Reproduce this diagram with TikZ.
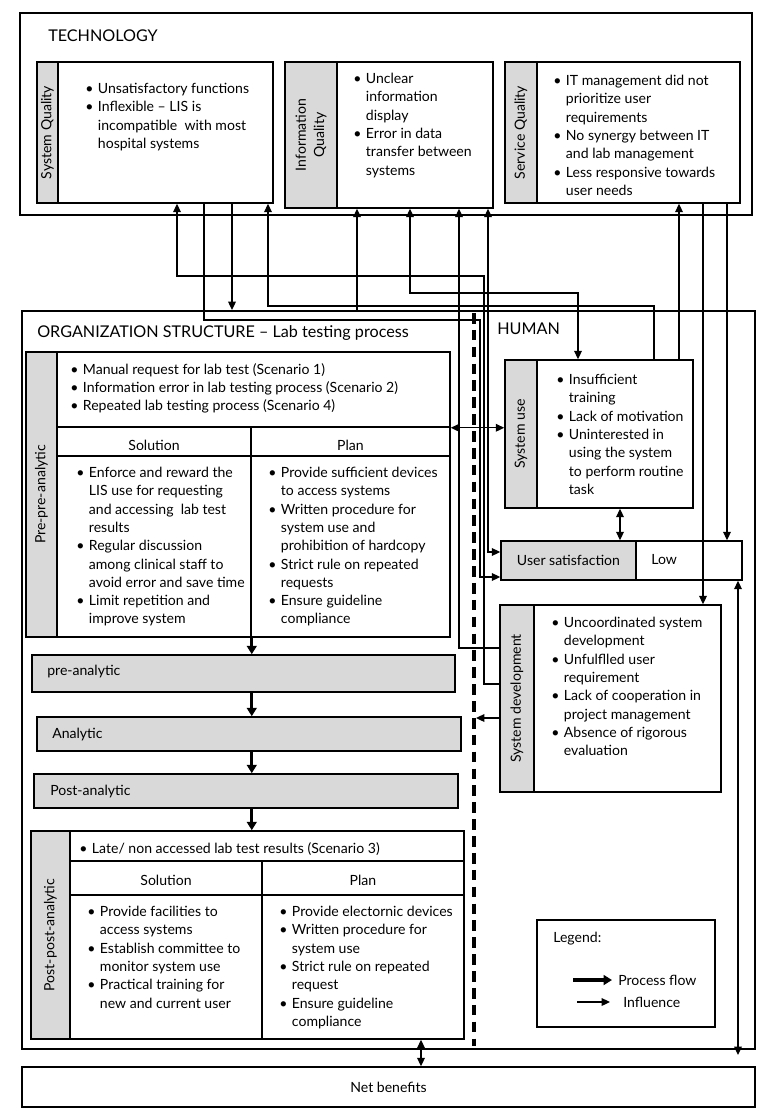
\documentclass[tikz,border=0pt]{standalone}
\usepackage{fontspec}
\setmainfont{Lato}
\usetikzlibrary{positioning,arrows.meta,fit,calc}
\newcommand{\bu}{\makebox[9pt][l]{\textbullet}}
\newcommand{\nb}{\hspace*{9pt}}

\begin{document}
\begin{tikzpicture}[x=0.025cm, y=-0.025cm,
  font=\fontsize{10}{13}\selectfont,
  frame/.style={draw, line width=1.4pt, inner sep=0pt},
  box/.style={draw, line width=1.1pt, inner sep=0pt, fill=white},
  tag/.style={draw, line width=1.1pt, inner sep=0pt, fill=gray!30},
  txt/.style={anchor=north west, align=left, inner sep=0pt},
  vtag/.style={rotate=90, align=center, inner sep=0pt},
  head/.style={anchor=west, inner sep=0pt, font=\fontsize{11.5}{14}\selectfont},
  flow/.style={-{Triangle[length=6pt, width=7pt]}, line width=2.2pt},
  infl/.style={-{Triangle[length=6pt, width=5.5pt]}, line width=0.9pt},
  both/.style={{Triangle[length=6pt, width=5.5pt]}-{Triangle[length=6pt, width=5.5pt]}, line width=0.9pt}]
  \useasboundingbox (0,0) rectangle (772,1116);

  % technology
  \node[frame, fit={(20,13)(752,215)}] (tech) {};
  \node[head] (techlbl) at (48,36) {TECHNOLOGY};
  \node[tag, fit={(37,62)(58,203)}] (sqt) {};
  \node[box, fit={(58,62)(273,203)}] (sq) {};
  \node[vtag] at (sqt) {System Quality};
  \node[txt] (sqtxt) at (85,83) {\bu Unsatisfactory functions\\ \bu Inflexible – LIS is\\ \nb incompatible\ \ with most\\ \nb hospital systems};
  \node[tag, fit={(285,62)(337,208)}] (iqt) {};
  \node[box, fit={(337,62)(493,208)}] (iq) {};
  \node[vtag] at (iqt) {Information\\ Quality};
  \node[txt] (iqtxt) at (353,73) {\bu Unclear\\ \nb information\\ \nb display\\ \bu Error in data\\ \nb transfer between\\ \nb systems};
  \node[tag, fit={(505,62)(537,203)}] (svqt) {};
  \node[box, fit={(537,62)(740,203)}] (svq) {};
  \node[vtag] at (svqt) {Service Quality};
  \node[txt] (svqtxt) at (553,75) {\bu IT management did not\\ \nb prioritize user\\ \nb requirements\\ \bu No synergy between IT\\ \nb and lab management\\ \bu Less responsive towards\\ \nb user needs};

  % organization structure
  \node[frame, fit={(22,311)(755,1049)}] (org) {};
  \coordinate (dtop) at (474,313);
  \coordinate (dbot) at (474,1046);
  \draw[line width=2.4pt, dash pattern=on 7.5pt off 4.5pt] (dtop) -- (dbot);
  \node[head] (orglbl) at (37,333) {ORGANIZATION STRUCTURE – Lab testing process};
  \node[head] (humlbl) at (497,329) {HUMAN};

  \node[tag, fit={(26,352)(57,637)}] (ppt) {};
  \node[vtag] at (ppt) {Pre-pre-analytic};
  \node[box, fit={(57,352)(450,427)}] (pptop) {};
  \node[txt] at (70,363) {\bu Manual request for lab test (Scenario 1)\\ \bu Information error in lab testing process (Scenario 2)\\ \bu Repeated lab testing process (Scenario 4)};
  \node[box, fit={(57,427)(251,456)}] (ppsolh) {};
  \node[box, fit={(251,427)(450,456)}] (ppplanh) {};
  \node at ([yshift=-2.5pt]ppsolh.center) {Solution};
  \node at ([yshift=-2.5pt]ppplanh.center) {Plan};
  \node[box, fit={(57,456)(251,637)}] (ppsol) {};
  \node[box, fit={(251,456)(450,637)}] (ppplan) {};
  \node[txt] at (76,467) {\bu Enforce and reward the\\ \nb LIS use for requesting\\ \nb and accessing\ \ lab test\\ \nb results\\ \bu Regular discussion\\ \nb among clinical staff to\\ \nb avoid error and save time\\ \bu Limit repetition and\\ \nb improve system};
  \node[txt] at (268,467) {\bu Provide sufficient devices\\ \nb to access systems\\ \bu Written procedure for\\ \nb system use and\\ \nb prohibition of hardcopy\\ \bu Strict rule on repeated\\ \nb requests\\ \bu Ensure guideline\\ \nb compliance};

  \node[tag, fit={(32,655)(455,692)}] (pre) {};
  \node[anchor=west, inner sep=0pt] at (47,672) {pre-analytic};
  \node[tag, fit={(37,717)(461,751)}] (ana) {};
  \node[anchor=west, inner sep=0pt] at (52,735) {Analytic};
  \node[tag, fit={(34,774)(458,808)}] (post) {};
  \node[anchor=west, inner sep=0pt] at (50,792) {Post-analytic};

  \node[tag, fit={(31,831)(70,1039)}] (pppt) {};
  \node[vtag] at (pppt) {Post-post-analytic};
  \node[box, fit={(70,831)(464,861)}] (ppptop) {};
  \node[txt] at (79,842) {\bu Late/ non accessed lab test results (Scenario 3)};
  \node[box, fit={(70,861)(262,895)}] (pppsolh) {};
  \node[box, fit={(262,861)(464,895)}] (pppplanh) {};
  \node at ([yshift=-2pt]pppsolh.center) {Solution};
  \node at ([yshift=-2pt]pppplanh.center) {Plan};
  \node[box, fit={(70,895)(262,1039)}] (pppsol) {};
  \node[box, fit={(262,895)(464,1039)}] (pppplan) {};
  \node[txt] at (87,906) {\bu Provide facilities to\\ \nb access systems\\ \bu Establish committee to\\ \nb monitor system use\\ \bu Practical training for\\ \nb new and current user};
  \node[txt] at (279,906) {\bu Provide electornic devices\\ \bu Written procedure for\\ \nb system use\\ \bu Strict rule on repeated\\ \nb request\\ \bu Ensure guideline\\ \nb compliance};

  % human
  \node[tag, fit={(505,360)(537,508)}] (sut) {};
  \node[box, fit={(537,360)(693,508)}] (su) {};
  \node[vtag] at (sut) {System use};
  \node[txt] at (556,374) {\bu Insufficient\\ \nb training\\ \bu Lack of motivation\\ \bu Uninterested in\\ \nb using the system\\ \nb to perform routine\\ \nb task};
  \node[tag, fit={(501,541)(636,580)}] (ust) {};
  \node at (ust.center) {User satisfaction};
  \node[box, fit={(636,541)(742,580)}] (us) {};
  \node[anchor=west, inner sep=0pt] at (651,560) {Low};
  \node[tag, fit={(500,605)(534,792)}] (sdt) {};
  \node[box, fit={(534,605)(721,792)}] (sd) {};
  \node[vtag] at (sdt) {System development};
  \node[txt] at (551,617) {\bu Uncoordinated system\\ \nb development\\ \bu Unfulflled user\\ \nb requirement\\ \bu Lack of cooperation in\\ \nb project management\\ \bu Absence of rigorous\\ \nb evaluation};

  % legend and net benefits
  \node[box, fit={(537,920)(715,1027)}] (leg) {};
  \node[anchor=west, inner sep=0pt] at (553,939) {Legend:};
  \coordinate (lf1) at (573,980);
  \coordinate (lf2) at (612,980);
  \coordinate (li1) at (577,1002);
  \coordinate (li2) at (610,1002);
  \draw[flow] (lf1) -- (lf2);
  \draw[infl] (li1) -- (li2);
  \node[anchor=west, inner sep=0pt] at (618,980) {Process flow};
  \node[anchor=west, inner sep=0pt] at (623,1002) {Influence};
  \node[box, fit={(22,1067)(755,1107)}] (net) {};
  \node at (net.center) {Net benefits};

  % process flow
  \draw[flow] (ppsol.south east) -- (ppsol.south east |- pre.north);
  \draw[flow] (pre.south -| ppsol.east) -- (ana.north -| ppsol.east);
  \draw[flow] (ana.south -| ppsol.east) -- (post.north -| ppsol.east);
  \draw[flow] (post.south -| ppsol.east) -- (ppptop.north -| ppsol.east);

  % influences
  \coordinate (b1a) at (484,684);
  \coordinate (b1b) at (484,276);
  \coordinate (b1c) at (177,276);
  \draw[infl] (b1a -| sdt.west) -- (b1a) -- (b1b) -- (b1c) -- (b1c |- sq.south);
  \coordinate (b2a) at (204,320);
  \coordinate (b2b) at (480,577);
  \draw[infl] (b2a |- sq.south) -- (b2a) -| (b2b) -- (b2b -| ust.west);
  \coordinate (b3) at (232,250);
  \draw[infl] (b3 |- sq.south) -- (b3 |- org.north);
  \coordinate (b4a) at (654,306);
  \coordinate (b4b) at (268,306);
  \draw[infl] (b4a |- su.north) -- (b4a) -- (b4b) -- (b4b |- sq.south);
  \coordinate (b5) at (357,260);
  \draw[infl] (b5 |- org.north) -- (b5 |- iq.south);
  \coordinate (b6a) at (410,293);
  \coordinate (b6b) at (578,293);
  \draw[both] (b6a |- iq.south) -- (b6a) -- (b6b) -- (b6b |- su.north);
  \coordinate (b7) at (459,648);
  \draw[infl] (b7 -| sdt.west) -- (b7) -- (b7 |- iq.south);
  \coordinate (b8) at (488,552);
  \draw[both] (b8 -| ust.west) -- (b8) -- (b8 |- iq.south);
  \coordinate (b9) at (679,280);
  \draw[infl] (b9 |- su.north) -- (b9 |- svq.south);
  \coordinate (b10) at (703,400);
  \draw[infl] (b10 |- svq.south) -- (b10 |- sd.north);
  \coordinate (b11) at (727,400);
  \draw[infl] (b11 |- svq.south) -- (b11 |- us.north);
  \coordinate (b12) at (738,800);
  \draw[both, shorten >=8pt] (b12 |- us.south) -- (b12 |- net.north);
  \coordinate (b13) at (476,718);
  \draw[infl] (b13 -| sdt.west) -- (b13);
  \draw[both] (pptop.south east) -- (pptop.south east -| sut.west);
  \coordinate (b15) at (620,520);
  \draw[both] (b15 |- su.south) -- (b15 |- ust.north);
  \coordinate (b16) at (421,1050);
  \draw[both] (b16 |- pppplan.south) -- (b16 |- net.north);
\end{tikzpicture}
\end{document}
